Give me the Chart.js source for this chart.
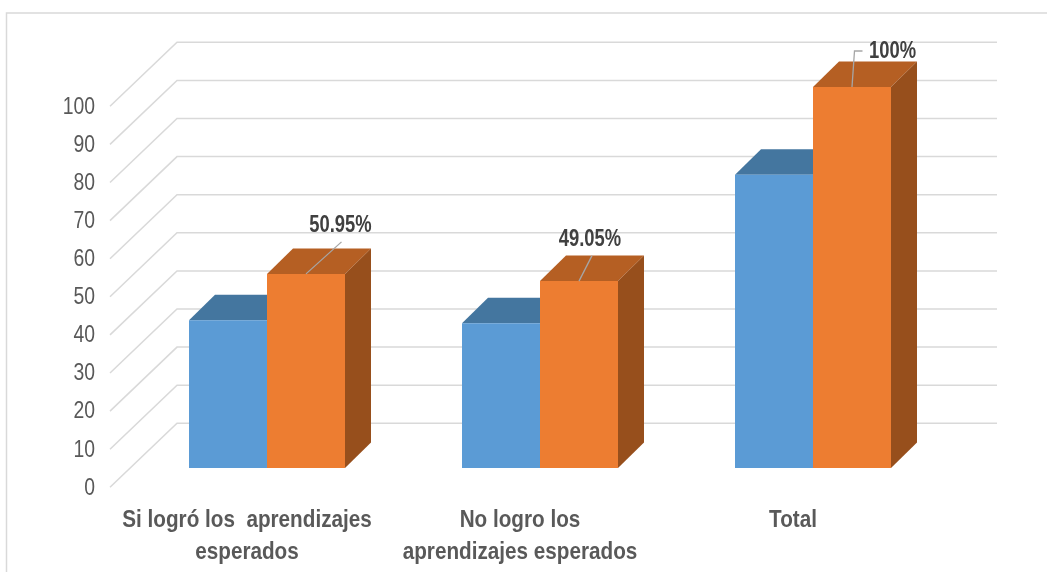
<!DOCTYPE html>
<html><head><meta charset="utf-8">
<style>html,body{margin:0;padding:0;background:#fff}canvas{display:block}</style>
<script src="https://cdn.jsdelivr.net/npm/chart.js@4/dist/chart.umd.min.js"></script>
</head><body><canvas id="c" width="1047" height="572"></canvas>
<script>
const categories = [["Si logró los  aprendizajes","esperados"],["No logro los","aprendizajes esperados"],"Total"];
const blueValues = [38.8,38,77];
const orangeValues = [50.95,49.05,100];
const orangeLabels = ["50.95%","49.05%","100%"];
const yTicks = [0,10,20,30,40,50,60,70,80,90,100];

const FONT = '"Liberation Sans",Arial,sans-serif';
const BAR_DEPTH = {dx:26, dy:-25.5};
const WALL = {dy:-44.7, left:177, right:997, floorDx:-67, floorDy:64};
const FACES = [{top:'#44769f'},{top:'#b55f23',side:'#974f1c'}];
const LEADERS = [
  {pts:[[35.5,-32]], text:[34.5,-48]},
  {pts:[[13,-25.5]], text:[11,-41]},
  {pts:[[2.5,-36],[10.5,-36]], text:[40.5,-35]}
];
const SQUEEZE = {y:0.807, x:0.862, data:0.8};

function condense(scale,sx){
  if(scale._condensed) return;
  scale._condensed = true;
  const draw = scale.drawLabels;
  scale.drawLabels = function(area){
    this.getLabelItems(area).forEach(i=>{
      if(!i.options._cond){
        i.options.translation=[i.options.translation[0]/sx,i.options.translation[1]];
        i.options._cond=true;
      }
    });
    this.ctx.save();
    this.ctx.scale(sx,1);
    draw.call(this,area);
    this.ctx.restore();
  };
}

const scene = {
  id:'scene',
  beforeDraw(chart){
    condense(chart.scales.y,SQUEEZE.y);
    condense(chart.scales.x,SQUEEZE.x);
    const c = chart.ctx;
    c.save();
    c.fillStyle='#fff'; c.fillRect(0,0,chart.width,chart.height);
    c.strokeStyle='#d9d9d9'; c.lineWidth=1.5;
    c.beginPath(); c.moveTo(6.5,572); c.lineTo(6.5,13); c.lineTo(1047,13); c.stroke();
    const y = chart.scales.y;
    c.strokeStyle='#d9d9d9'; c.lineWidth=1.5;
    y.ticks.forEach(t=>{
      const py = y.getPixelForValue(t.value)+WALL.dy;
      c.beginPath();
      c.moveTo(WALL.left+WALL.floorDx, py+WALL.floorDy);
      c.lineTo(WALL.left, py);
      c.lineTo(WALL.right, py);
      c.stroke();
    });
    c.restore();
  },
  beforeDatasetDraw(chart,args){
    const c = chart.ctx, meta = chart.getDatasetMeta(args.index), f = FACES[args.index];
    c.save();
    meta.data.forEach(b=>{
      const l=b.x-b.width/2, r=b.x+b.width/2, t=b.y, bot=b.base, dx=BAR_DEPTH.dx, dy=BAR_DEPTH.dy;
      const topRight = f.side ? r+dx : r;
      c.fillStyle=f.top;
      c.beginPath(); c.moveTo(l,t); c.lineTo(l+dx,t+dy); c.lineTo(topRight,t+dy); c.lineTo(r,t); c.closePath(); c.fill();
      if(f.side){
        c.fillStyle=f.side;
        c.beginPath(); c.moveTo(r,t); c.lineTo(r+dx,t+dy); c.lineTo(r+dx,bot+dy); c.lineTo(r,bot); c.closePath(); c.fill();
      }
    });
    c.restore();
  },
  afterDatasetsDraw(chart){
    const c = chart.ctx, meta = chart.getDatasetMeta(1);
    c.save();
    meta.data.forEach((b,i)=>{
      const L=LEADERS[i];
      c.strokeStyle='#a6a6a6'; c.lineWidth=1.3;
      c.beginPath(); c.moveTo(b.x,b.y);
      L.pts.forEach(p=>c.lineTo(b.x+p[0],b.y+p[1]));
      c.stroke();
      c.save();
      c.translate(b.x+L.text[0], b.y+L.text[1]);
      c.scale(SQUEEZE.data,1);
      c.fillStyle='#404040'; c.font='bold 23px '+FONT;
      c.textAlign='center'; c.textBaseline='middle';
      c.fillText(orangeLabels[i],0,0);
      c.restore();
    });
    c.restore();
  }
};

new Chart(document.getElementById('c'),{
  type:'bar',
  data:{labels:categories,datasets:[
    {label:'Serie 1',data:blueValues,backgroundColor:'#5b9bd5',categoryPercentage:0.5714,barPercentage:1,borderWidth:0},
    {label:'Serie 2',data:orangeValues,backgroundColor:'#ed7d31',categoryPercentage:0.5714,barPercentage:1,borderWidth:0}
  ]},
  options:{
    responsive:false,animation:false,
    layout:{padding:{left:0,top:87,right:97.5,bottom:0}},
    plugins:{legend:{display:false},tooltip:{enabled:false}},
    scales:{
      x:{
        grid:{display:false},border:{display:false},
        afterFit(s){s.height=104;},
        ticks:{autoSkip:false,maxRotation:0,minRotation:0,labelOffset:-20,padding:28,color:'#595959',
          font:{family:FONT,size:24,weight:'bold',lineHeight:'32px'}}
      },
      y:{
        min:0,max:100,
        grid:{display:false},border:{display:false},
        afterBuildTicks(s){s.ticks=yTicks.map(v=>({value:v}));},
        afterFit(s){s.width=130.5;},
        ticks:{labelOffset:20,padding:27.5,color:'#595959',font:{family:FONT,size:24}}
      }
    }
  },
  plugins:[scene]
});
</script></body></html>
